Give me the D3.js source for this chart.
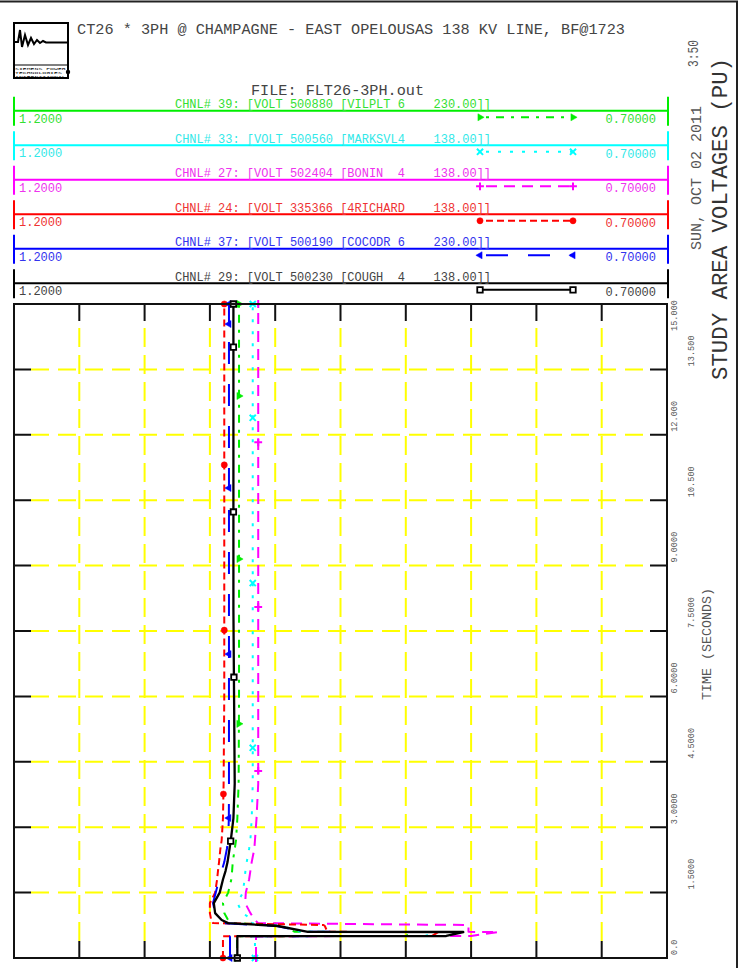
<!DOCTYPE html>
<html><head><meta charset="utf-8">
<script src="https://cdn.jsdelivr.net/npm/d3@7"></script>
<style>
body{margin:0;background:#fff}
svg{display:block}
text{font-family:"Liberation Mono","Courier New",monospace;white-space:pre}
</style>
</head><body>
<svg id="c" width="746" height="976"></svg>
<script>
// ---------------- DATA ----------------
const TIME = [0, 0.5, 0.505, 0.596, 0.6, 0.734, 0.757, 0.8, 0.87, 1.03, 1.26, 1.5, 1.8, 2.0, 2.2, 2.5, 2.7, 3.2, 4, 6, 8, 10, 12, 15];

const V_VILPLT   = [1.0292, 1.0292, 0.900, 0.895, 0.985, 0.995, 1.000, 1.032, 1.036, 1.039, 1.040, 1.036, 1.0336, 1.033, 1.0325, 1.031, 1.030, 1.029, 1.028, 1.0277, 1.0277, 1.0277, 1.0277, 1.0277];
const V_MARKSVL4 = [1.0155, 1.0155, 0.885, 0.878, 0.980, 0.995, 1.005, 1.018, 1.017, 1.025, 1.029, 1.0247, 1.0235, 1.0228, 1.0218, 1.020, 1.019, 1.018, 1.0172, 1.0172, 1.0172, 1.0172, 1.0172, 1.0172];
const V_BONIN    = [1.0147, 1.0147, 0.850, 0.829, 0.852, 0.852, 0.852, 1.013, 1.0155, 1.019, 1.023, 1.0225, 1.020, 1.019, 1.018, 1.016, 1.0155, 1.0143, 1.013, 1.013, 1.013, 1.013, 1.013, 1.013];
const V_4RICHARD = [1.040, 1.040, 0.880, 0.875, 0.960, 0.962, 0.963, 1.0476, 1.049, 1.050, 1.050, 1.046, 1.0445, 1.0438, 1.043, 1.042, 1.041, 1.040, 1.0395, 1.039, 1.039, 1.039, 1.039, 1.039];
const V_COCODR   = [1.0346, 1.0346, 0.872, 0.860, 0.978, 0.999, 1.015, 1.040, 1.0423, 1.046, 1.0476, 1.0455, 1.043, 1.041, 1.039, 1.037, 1.036, 1.0355, 1.0354, 1.0354, 1.0354, 1.0354, 1.0354, 1.0354];
const V_COUGH    = [1.029, 1.029, 0.869, 0.856, 0.975, 0.998, 1.010, 1.036, 1.041, 1.046, 1.047, 1.0425, 1.040, 1.038, 1.0365, 1.035, 1.034, 1.032, 1.031, 1.0315, 1.032, 1.032, 1.032, 1.032];

// marker times for each channel
const MK_VILPLT   = [0, 5.37, 9.15, 12.89, 15];
const MK_MARKSVL4 = [0, 4.82, 8.60, 12.39, 15];
const MK_BONIN    = [0, 4.29, 8.05, 11.83, 15];
const MK_4RICHARD = [0, 3.76, 7.52, 11.31, 15];
const MK_COCODR   = [0, 3.21, 6.97, 10.78, 14.54, 15];
const MK_COUGH    = [0, 2.68, 6.44, 10.23, 14.01, 15];

const CHANNEL_LABELS = [
  "CHNL# 39: [VOLT 500880 [VILPLT 6    230.00]]",
  "CHNL# 33: [VOLT 500560 [MARKSVL4    138.00]]",
  "CHNL# 27: [VOLT 502404 [BONIN  4    138.00]]",
  "CHNL# 24: [VOLT 335366 [4RICHARD    138.00]]",
  "CHNL# 37: [VOLT 500190 [COCODR 6    230.00]]",
  "CHNL# 29: [VOLT 500230 [COUGH  4    138.00]]"
];
const SCALE_MAX_LABEL = "1.2000";
const SCALE_MIN_LABEL = "0.70000";
const VOLT_MAX = 1.2, VOLT_MIN = 0.7;
const TIME_MAX = 15;
const TIME_TICK_LABELS = ["0.0", "1.5000", "3.0000", "4.5000", "6.0000", "7.5000", "9.0000", "10.500", "12.000", "13.500", "15.000"];
const TITLE = "CT26 * 3PH @ CHAMPAGNE - EAST OPELOUSAS 138 KV LINE, BF@1723";
const FILE_LABEL = "FILE: FLT26-3PH.out";
const DATE_LABEL = "SUN, OCT 02 2011";
const CLOCK_LABEL = "3:50";
const Y_TITLE = "STUDY AREA VOLTAGES (PU)";
const X_TITLE = "TIME (SECONDS)";
const LOGO_LINES = ["SIEMENS POWER", "TECHNOLOGIES", "INTERNATIONAL"];

// ---------------- STYLE ----------------
const SERIES_VALUES = [V_VILPLT, V_MARKSVL4, V_BONIN, V_4RICHARD, V_COCODR, V_COUGH];
const SERIES_MARKS = [MK_VILPLT, MK_MARKSVL4, MK_BONIN, MK_4RICHARD, MK_COCODR, MK_COUGH];
const LINE_COLORS = ["#00ee00", "#00ffff", "#ff00ff", "#ff0000", "#0000ff", "#000000"];
const TEXT_COLORS = ["#33e033", "#33e8e8", "#ee33ee", "#ee3333", "#3333ee", "#444444"];
const DASHES = ["3,7,8,7", "3,9", "11,7", "7,4", "22,20", null];
const MARKER_TYPES = ["triRight", "times", "plus", "circle", "triLeft", "square"];

// ---------------- DRAW ----------------
const svg = d3.select("#c");
svg.append("rect").attr("width", 746).attr("height", 976).attr("fill", "#fff");

// page frame
svg.append("path").attr("d", "M0,1.5H737V968").attr("fill", "none").attr("stroke", "#222").attr("stroke-width", 2);

// logo
const logo = svg.append("g");
logo.append("rect").attr("x", 14).attr("y", 23).attr("width", 54).attr("height", 55)
  .attr("fill", "#fff").attr("stroke", "#000").attr("stroke-width", 2);
logo.append("path").attr("d", "M15,42H18L20,30L22,47L25,35L28,45L31,38L34,44L37,40L40,43L43,41L46,42.5H68")
  .attr("fill", "none").attr("stroke", "#000").attr("stroke-width", 2);
logo.append("line").attr("x1", 14).attr("x2", 68).attr("y1", 65).attr("y2", 65).attr("stroke", "#000").attr("stroke-width", 1);
LOGO_LINES.forEach((s, i) => {
  logo.append("text").attr("x", 15).attr("y", 69.5 + i * 4).attr("font-size", 4.2)
    .attr("textLength", s.length * 3.9).attr("lengthAdjust", "spacingAndGlyphs").attr("fill", "#000").text(s);
});
logo.append("circle").attr("cx", 68).attr("cy", 72).attr("r", 2.2).attr("fill", "#000");

// title and file
svg.append("text").attr("x", 77).attr("y", 33.5).attr("font-size", 15).attr("fill", "#444")
  .attr("textLength", 548).attr("lengthAdjust", "spacingAndGlyphs").text(TITLE);
svg.append("text").attr("x", 251).attr("y", 95).attr("font-size", 14).attr("fill", "#444")
  .attr("textLength", 173).attr("lengthAdjust", "spacingAndGlyphs").text(FILE_LABEL);

// rotated right texts
function vtext(x, y, s, fs, len, fill, anchor) {
  const t = svg.append("text").attr("transform", `translate(${x},${y}) rotate(-90)`)
    .attr("font-size", fs).attr("fill", fill).attr("text-anchor", anchor || "start").text(s);
  if (len) t.attr("textLength", len).attr("lengthAdjust", "spacingAndGlyphs");
  return t;
}
vtext(727, 380, Y_TITLE, 22.4, 322, "#333");
vtext(701, 250, DATE_LABEL, 15, 144, "#555");
vtext(698, 67, CLOCK_LABEL, 14, 27, "#555");
vtext(710.5, 700, X_TITLE, 13, 112, "#555");

// marker helper
function drawMarker(g, type, cx, cy, color) {
  let sym, size, rot = 0, filled = true;
  switch (type) {
    case "triRight": sym = d3.symbolTriangle; size = 22; rot = 90; break;
    case "triLeft": sym = d3.symbolTriangle; size = 22; rot = -90; break;
    case "circle": sym = d3.symbolCircle; size = 30; break;
    case "square": sym = d3.symbolSquare; size = 30; break;
    case "plus": sym = d3.symbolPlus; size = 22; filled = false; break;
    case "times": sym = d3.symbolTimes; size = 26; filled = false; break;
  }
  const p = g.append("path").attr("d", d3.symbol(sym, size)())
    .attr("transform", `translate(${cx},${cy}) rotate(${rot})`);
  if (type === "square") p.attr("fill", "#fff").attr("stroke", "#000").attr("stroke-width", 1.8);
  else if (filled) p.attr("fill", color).attr("stroke", color).attr("stroke-width", 0.5);
  else p.attr("fill", "none").attr("stroke", color).attr("stroke-width", 2);
}

// legend rows
const legend = svg.append("g");
CHANNEL_LABELS.forEach((lab, i) => {
  const yl = 110.7 + 34.5 * i;
  const c = LINE_COLORS[i], tc = TEXT_COLORS[i];
  legend.append("path").attr("d", `M14,${yl - 14}V${yl + 15}M14,${yl}H668M668,${yl - 14}V${yl + 15}`)
    .attr("fill", "none").attr("stroke", c).attr("stroke-width", 2);
  legend.append("text").attr("x", 175).attr("y", yl - 2.5).attr("font-size", 12).attr("fill", tc)
    .attr("xml:space", "preserve").attr("textLength", 316).attr("lengthAdjust", "spacingAndGlyphs").text(lab);
  legend.append("text").attr("x", 19).attr("y", yl + 12).attr("font-size", 12).attr("fill", tc).text(SCALE_MAX_LABEL);
  legend.append("text").attr("x", 656).attr("y", yl + 12.5).attr("font-size", 12).attr("fill", tc)
    .attr("text-anchor", "end").text(SCALE_MIN_LABEL);
  const ys = yl + 6.6;
  const s = legend.append("line").attr("x1", 480).attr("x2", 573).attr("y1", ys).attr("y2", ys)
    .attr("stroke", c).attr("stroke-width", 2);
  if (DASHES[i]) s.attr("stroke-dasharray", DASHES[i]).attr("stroke-dashoffset", -6);
  drawMarker(legend, MARKER_TYPES[i], 480, ys, c);
  drawMarker(legend, MARKER_TYPES[i], 573, ys, c);
});

// plot scales
const PL = 14, PR = 667, PT = 304, PB = 958;
const x = d3.scaleLinear().domain([VOLT_MAX, VOLT_MIN]).range([PL, PR]);
const y = d3.scaleLinear().domain([0, TIME_MAX]).range([PB, PT]);
const vTicks = d3.range(0, 11).map(k => VOLT_MAX - k * 0.05);
const tTicks = d3.range(0, 11).map(k => k * 1.5);

const plot = svg.append("g");
// yellow grid
vTicks.slice(1, -1).forEach(v => {
  plot.append("line").attr("x1", x(v)).attr("x2", x(v)).attr("y1", PT + 17).attr("y2", PB - 17)
    .attr("stroke", "#ffff00").attr("stroke-width", 2).attr("stroke-dasharray", "19,8").attr("stroke-dashoffset", 20);
});
tTicks.slice(1, -1).forEach(t => {
  plot.append("line").attr("x1", PL + 17).attr("x2", PR - 17).attr("y1", y(t)).attr("y2", y(t))
    .attr("stroke", "#ffff00").attr("stroke-width", 2).attr("stroke-dasharray", "18,9");
});
// black ticks
vTicks.slice(1, -1).forEach(v => {
  plot.append("path").attr("d", `M${x(v)},${PT}V${PT + 17}M${x(v)},${PB - 17}V${PB}`)
    .attr("stroke", "#111").attr("stroke-width", 2);
});
tTicks.slice(1, -1).forEach(t => {
  plot.append("path").attr("d", `M${PL},${y(t)}H${PL + 17}M${PR - 17},${y(t)}H${PR}`)
    .attr("stroke", "#111").attr("stroke-width", 2);
});
// time tick labels
tTicks.forEach((t, i) => {
  const bx = i % 2 === 0 ? 676.5 : 693.5;
  if (i === tTicks.length - 1) vtext(bx, y(t) - 4, TIME_TICK_LABELS[i], 8.6, null, "#555", "end");
  else vtext(bx, y(t) - 3, TIME_TICK_LABELS[i], 8.6, null, "#555", "start");
});

// series
function valueAt(vals, t) {
  const i = d3.bisectRight(TIME, t);
  if (i >= TIME.length) return vals[vals.length - 1];
  const t0 = TIME[i - 1], t1 = TIME[i];
  return vals[i - 1] + (vals[i] - vals[i - 1]) * (t - t0) / (t1 - t0);
}
const line = d3.line().x(d => x(d[1])).y(d => y(d[0]));
SERIES_VALUES.forEach((vals, i) => {
  const g = plot.append("g");
  const pts = TIME.map((t, k) => [t, vals[k]]);
  const p = g.append("path").attr("d", line(pts)).attr("fill", "none")
    .attr("stroke", LINE_COLORS[i]).attr("stroke-width", i === 5 ? 2.3 : 2).attr("stroke-linejoin", "round");
  if (DASHES[i]) p.attr("stroke-dasharray", DASHES[i]);
  SERIES_MARKS[i].forEach(t => drawMarker(g, MARKER_TYPES[i], x(valueAt(vals, t)), y(t), LINE_COLORS[i]));
});

// frame
plot.append("rect").attr("x", PL).attr("y", PT).attr("width", PR - PL).attr("height", PB - PT)
  .attr("fill", "none").attr("stroke", "#111").attr("stroke-width", 2);
</script>
</body></html>
